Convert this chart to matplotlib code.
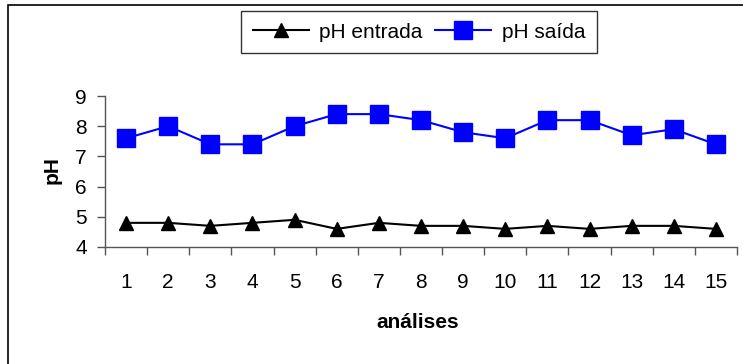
import matplotlib.pyplot as plt
from matplotlib.patches import Rectangle

plt.rcParams['font.family'] = ['Liberation Sans', 'DejaVu Sans']

# analysis number and pH readings
analises = list(range(1, 16))
ph_entrada = [4.8, 4.8, 4.7, 4.8, 4.9, 4.6, 4.8, 4.7, 4.7, 4.6, 4.7, 4.6, 4.7, 4.7, 4.6]
ph_saida = [7.6, 8.0, 7.4, 7.4, 8.0, 8.4, 8.4, 8.2, 7.8, 7.6, 8.2, 8.2, 7.7, 7.9, 7.4]

fig = plt.figure(figsize=(7.43, 3.64), dpi=100)
ax = fig.add_axes([105 / 743, 1 - 247 / 364, (737 - 105) / 743, (247 - 96) / 364])

# outer frame like the excel chart area
fig.patches.append(Rectangle((8 / 743, -0.05), 1.1, 1 - 5 / 364 + 0.05,
                             transform=fig.transFigure, fill=False,
                             edgecolor='black', linewidth=1.2))

ax.plot(analises, ph_entrada, color='black', marker='^', markersize=10,
        linewidth=1.5, label='pH entrada')
ax.plot(analises, ph_saida, color='#0000FF', marker='s', markersize=13,
        linewidth=1.5, label='pH saída')

ax.set_xlim(0.5, 15.5)
ax.set_ylim(4, 9)
ax.set_yticks(range(4, 10))

# ticks between categories, labels at centres
ax.set_xticks([i + 0.5 for i in range(0, 16)])
ax.set_xticklabels([])
ax.set_xticks(analises, minor=True)
ax.set_xticklabels([str(a) for a in analises], minor=True)
ax.tick_params(axis='x', which='minor', length=0, pad=19, labelsize=15)
ax.tick_params(axis='x', which='major', length=6, width=1, color='#555555')
ax.tick_params(axis='y', length=6, width=1, pad=7, labelsize=15, color='#555555')

for s in ['top', 'right']:
    ax.spines[s].set_visible(False)
for s in ['left', 'bottom']:
    ax.spines[s].set_color('#555555')
    ax.spines[s].set_linewidth(1)

fig.text(52 / 743, 1 - 170 / 364, 'pH', rotation=90, fontsize=15,
         fontweight='bold', ha='center', va='center')
fig.text(418 / 743, 1 - 322 / 364, 'análises', fontsize=15,
         fontweight='bold', ha='center', va='center')

leg = fig.legend(loc='center', bbox_to_anchor=(419 / 743, 1 - 32 / 364), ncol=2,
                 fontsize=15, frameon=True, fancybox=False, edgecolor='black',
                 handlelength=2.7, handletextpad=0.5, columnspacing=0.6,
                 borderpad=0.55)
leg.get_frame().set_linewidth(1)

fig.savefig('out.png', dpi=100)
